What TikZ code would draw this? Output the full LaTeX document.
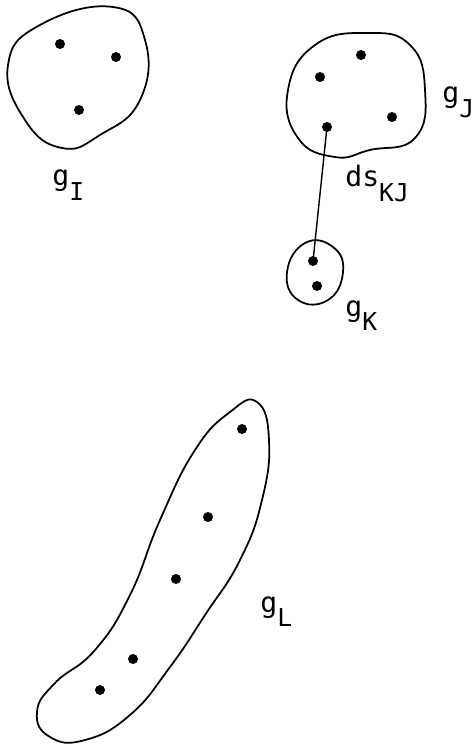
\documentclass[tikz,border=0pt]{standalone}
\usepackage{fontspec}
\setmonofont{DejaVu Sans Mono}
\usepackage{tikz}
\usetikzlibrary{positioning}

\newcommand{\grplbl}[2]{#1\raisebox{-8.5pt}{\fontsize{14}{16}\selectfont#2}}

\begin{document}
\begin{tikzpicture}[
    x=0.02cm, y=-0.02cm,
    font=\ttfamily\fontsize{16}{18}\selectfont,
    outline/.style={draw=black, line width=1pt},
    pt/.style={circle, fill=black, inner sep=0pt, minimum size=0.2cm},
    lbl/.style={anchor=base west, inner sep=0pt}
]
\useasboundingbox (0,0) rectangle (474,746);

% ── Group I ──
\draw[outline] plot[smooth cycle, tension=0.8] coordinates {
    (8,65) (40,25) (113,7) (145,40) (140,100) (100,135) (62,148) (25,120)};
\node[pt] (i1) at (60,44) {};
\node[pt] (i2) at (116,57) {};
\node[pt] (i3) at (79,110) {};
\node[lbl] (gI) at (52,186) {\grplbl{g}{I}};

% ── Group J ──
\draw[outline] plot[smooth cycle, tension=0.8] coordinates {
    (288,90) (315,45) (367,33) (410,45) (425,90) (415,138)
    (370,150) (335,157) (298,138)};
\node[pt] (j1) at (320,77) {};
\node[pt] (j2) at (361,55) {};
\node[pt] (j3) at (392,117) {};
\node[pt] (j4) at (327,127) {};
\node[lbl] (gJ) at (442,103) {\grplbl{g}{J}};

% ── Group K ──
\draw[outline] plot[smooth cycle, tension=0.8] coordinates {
    (287,272) (305,243) (333,247) (343,272) (328,300) (298,300)};
\node[pt] (k1) at (313,261) {};
\node[pt] (k2) at (317,286) {};
\node[lbl] (gK) at (345,316) {\grplbl{g}{K}};

% ── Distance K--J ──
\draw[line width=0.8pt] (j4.center) -- (k1.center);
\node[lbl] (dsKJ) at (345,187) {\grplbl{ds}{KJ}};

% ── Group L ──
\draw[outline] plot[smooth cycle, tension=0.8] coordinates {
    (257,402) (269,440) (262,500) (240,560) (205,615) (170,667)
    (130,715) (85,740) (50,737) (37,712) (55,683) (95,650)
    (130,595) (160,520) (195,450) (230,412)};
\node[pt] (l1) at (242,429) {};
\node[pt] (l2) at (208,517) {};
\node[pt] (l3) at (176,579) {};
\node[pt] (l4) at (133,659) {};
\node[pt] (l5) at (100,690) {};
\node[lbl] (gL) at (260,612) {\grplbl{g}{L}};

\end{tikzpicture}
\end{document}
